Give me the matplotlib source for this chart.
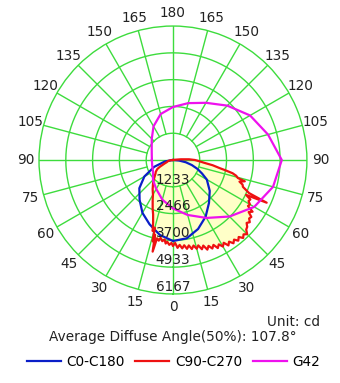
import numpy as np
import matplotlib
matplotlib.use('Agg')
import matplotlib.pyplot as plt

# ring values (cd) and angle labels
rings = [1233, 2466, 3700, 4933, 6167]
ring_labels = ['1233', '2466', '3700', '4933', '6167']
angle_ticks = [-165, -150, -135, -120, -105, -90, -75, -60, -45, -30, -15, 0,
               15, 30, 45, 60, 75, 90, 105, 120, 135, 150, 165, 180]

# C0-C180 (blue)
c0_ang = [-90, -80, -70, -60, -50, -40, -30, -20, -10, 0,
          10, 20, 30, 40, 50, 60, 65, 70, 75, 80, 85, 90]
c0_cd = [0, 370, 920, 1520, 2020, 2390, 2810, 3150, 3500, 3730,
         3660, 3380, 3010, 2580, 2210, 1800, 1480, 1200, 900, 600, 280, 0]

# C90-C270 (red)
c90_ang = [-90, -87.5, -85, -82.5, -80, -77.5, -75, -72.5, -70, -67.5, -65, -62.5,
           -60, -57.5, -55, -52.5, -50, -47.5, -45, -42.5, -40, -37.5, -35, -32.5,
           -30, -27.5, -25, -22.5, -20, -17.5,
           -16, -15, -14, -13.5, -12.5, -11.5, -10, -9, -7.5, -6, -5, -4, -2.5, -1,
           0, 1.5, 3, 4.5, 6, 7.5, 9, 10.5, 12, 13.5, 15, 16.5, 18, 19.5, 21, 22.5,
           24, 25.5, 27, 28.5, 30, 31.5, 33, 34.5, 36, 37.5, 39, 40.5, 42, 43.5,
           45, 46.5, 48, 49.5, 51, 52.5, 54, 55.5, 57, 58.5, 60, 61.5, 63, 64.5,
           65.5, 66.5, 68, 69, 70.5, 72, 73.5, 74.5, 76, 77.5, 79, 80,
           82.5, 85, 87.5, 90, 92.5, 95, 97.5, 100]
c90_cd = [0, 50, 90, 140, 180, 230, 250, 280, 320, 410, 510, 690,
          830, 900, 970, 1010, 1080, 1150, 1240, 1330, 1430, 1520, 1630, 1730,
          1840, 2020, 2210, 2440, 2670, 3040,
          3400, 3220, 3860, 3540, 4320, 3680, 3770, 3630, 3770, 3680, 3860, 3770, 3910, 3820,
          3960, 3820, 4050, 3920, 4090, 3960, 4140, 4000, 4190, 4050, 4230, 4100, 4320, 4180,
          4420, 4280, 4460, 4330, 4550, 4420, 4600, 4470, 4690, 4560, 4740, 4620, 4780, 4660,
          4830, 4720, 4830, 4650, 4600, 4460, 4550, 4420, 4460, 4230, 4370, 4050, 4090, 3960,
          4000, 3730,
          4740, 3820, 3590, 3450, 3400, 3220, 3450, 3100, 3000, 2810, 2440, 2210,
          1840, 1430, 1200, 1010, 740, 370, 90, 0]

# G42 (magenta)
g42_ang = [-90, -75, -60, -45, -30, -15, 0, 15, 30, 45, 60, 75, 90,
           105, 120, 135, 150, 165, 180, 195, 210, 225, 240, 255, 270]
g42_cd = [970, 990, 1060, 1300, 1540, 1890, 2230, 2620, 3080, 3680, 4320, 4770, 5010,
          4530, 4100, 3540, 3040, 2710, 2440, 2190, 1790, 1380, 1130, 1010, 970]

grid_c = '#3ddc3d'
txt_c = '#222222'
fs = 9.8
rmax = rings[-1]

fig = plt.figure(figsize=(3.4, 3.83), dpi=100)
ax = fig.add_axes([0.1147, 0.2324, 0.788, 0.6997], projection='polar')
ax.set_theta_zero_location('S')
ax.set_theta_direction(1)
ax.set_ylim(0, rmax)
ax.grid(False)
ax.set_xticks([])
ax.set_yticks([])
ax.spines['polar'].set_color(grid_c)
ax.spines['polar'].set_linewidth(1.0)

# grid: rings, spokes from first ring, main axes through centre
t = np.linspace(0, 2 * np.pi, 361)
for r in rings[:-1]:
    ax.plot(t, np.full_like(t, r), color=grid_c, lw=1.0, zorder=2)
for a in range(0, 360, 15):
    r0 = 0 if a % 90 == 0 else rings[0]
    ax.plot([np.radians(a)] * 2, [r0, rmax], color=grid_c, lw=1.0, zorder=2)

# curves
ax.fill(np.radians(c90_ang), c90_cd, color='#ffffc8', lw=0, zorder=1)
ax.plot(np.radians(c0_ang), c0_cd, color='#0a1ec8', lw=1.6, zorder=3)
ax.plot(np.radians(c90_ang), c90_cd, color='#ee1111', lw=1.6, zorder=3)
ax.plot(np.radians(g42_ang), g42_cd, color='#ee11ee', lw=1.6, zorder=3)

# labels
for a in angle_ticks:
    ax.text(np.radians(a), rmax * 1.10, str(abs(a)), ha='center', va='center',
            fontsize=fs, color=txt_c)
for r, lab in zip(rings, ring_labels):
    ax.text(0, r - 330, lab, ha='center', va='center', fontsize=fs,
            color=txt_c, zorder=4)

fig.text(0.941, 0.159, 'Unit: cd', ha='right', va='center', fontsize=fs, color=txt_c)
fig.text(0.509, 0.12, 'Average Diffuse Angle(50%): 107.8\u00b0', ha='center', va='center',
         fontsize=fs, color=txt_c)

h1, = plt.plot([], [], color='#0a1ec8', lw=1.6)
h2, = plt.plot([], [], color='#ee1111', lw=1.6)
h3, = plt.plot([], [], color='#ee11ee', lw=1.6)
fig.legend([h1, h2, h3], ['C0-C180', 'C90-C270', 'G42'], loc='center',
           bbox_to_anchor=(0.51, 0.055), ncol=3, frameon=False, fontsize=fs,
           handlelength=2.5, handletextpad=0.4, columnspacing=0.8)

fig.savefig('out.png', dpi=100)
